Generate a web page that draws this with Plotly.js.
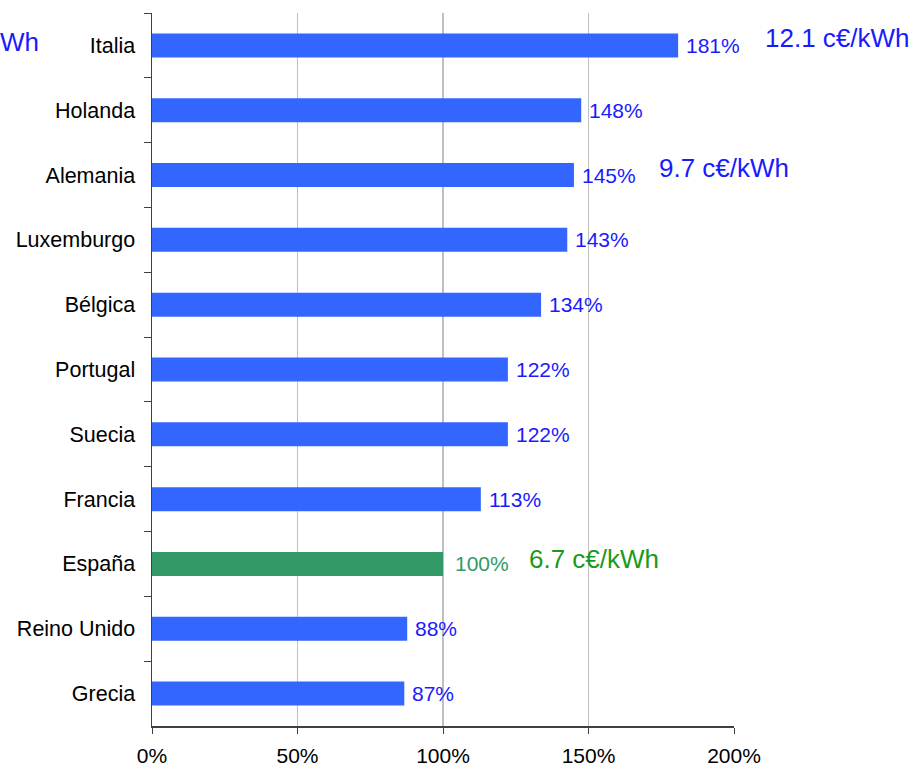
<!DOCTYPE html>
<html>
<head>
<meta charset="utf-8">
<script src="https://cdn.plot.ly/plotly-3.0.1.min.js"></script>
<style>html,body{margin:0;padding:0;background:#fff;}#chart{width:912px;height:768px;}</style>
</head>
<body>
<div id="chart"></div>
<script>
const countries = ["Italia","Holanda","Alemania","Luxemburgo","Bélgica","Portugal","Suecia","Francia","España","Reino Unido","Grecia"];
const valueLabels = ["181%","148%","145%","143%","134%","122%","122%","113%","100%","88%","87%"];
const barValues = [180.8,147.5,145,142.7,133.7,122.3,122.3,113,100,87.7,86.7];
const xTicks = [0,50,100,150,200];
const xTickLabels = ["0%","50%","100%","150%","200%"];
const priceNotes = ["Wh","12.1 c€/kWh","9.7 c€/kWh","6.7 c€/kWh"];
const priceNoteX = [-38,210,173.5,129];
const priceNoteY = ["Italia","Italia","Alemania","España"];

const highlight = "España";
const barColors = countries.map(c => c === highlight ? "#339966" : "#3366ff");
const textColors = countries.map(c => c === highlight ? "#339966" : "#1a1aff");
const font = "Liberation Sans, Arial, sans-serif";

const trace = {
  type: "bar",
  orientation: "h",
  y: countries,
  x: barValues,
  marker: {color: barColors},
  width: 0.37,
  hoverinfo: "none"
};

const labelShift = countries.map(c => c === highlight ? 10 : 6);
const valueAnnotations = valueLabels.map((t,i) => ({
  text: t, x: barValues[i], y: countries[i], xref: "x", yref: "y",
  xanchor: "left", yanchor: "middle", showarrow: false, xshift: labelShift[i], yshift: 0,
  font: {family: font, size: 21, color: textColors[i]}
}));

// the plot spans 0..200 % over the paper width; notes outside it are placed in paper units
const toPaperX = v => v / 200;
const catIndex = c => countries.indexOf(c);
const toPaperY = c => 1 - (catIndex(c) + 0.5) / countries.length;
const noteColors = ["#1a1aff","#1a1aff","#1a1aff","#1a9a1a"];
const noteShift = [3,7,7,5];
const noteAnnotations = priceNotes.map((t,i) => ({
  text: t, x: toPaperX(priceNoteX[i]), y: toPaperY(priceNoteY[i]), xref: "paper", yref: "paper",
  xanchor: i === 0 ? "right" : "left", yanchor: "middle", showarrow: false,
  yshift: noteShift[i],
  font: {family: font, size: 26, color: noteColors[i]}
}));

const layout = {
  width: 912, height: 768,
  margin: {l: 152, r: 178, t: 13, b: 42},
  paper_bgcolor: "#fff", plot_bgcolor: "#fff",
  showlegend: false,
  font: {family: font, size: 20, color: "#000"},
  xaxis: {
    range: [0,200], tickvals: xTicks, ticktext: xTickLabels,
    showgrid: true, gridcolor: "#c0c0c0", gridwidth: 1.5,
    zeroline: false, showline: true, linecolor: "#404040", linewidth: 1.5,
    ticks: "outside", ticklen: 6, tickcolor: "#404040", ticklabelstandoff: 4,
    tickfont: {family: font, size: 21, color: "#000"}
  },
  yaxis: {
    type: "category", categoryorder: "array", categoryarray: countries,
    autorange: "reversed", showgrid: false, zeroline: false,
    showline: true, linecolor: "#404040", linewidth: 1.5,
    ticks: "outside", ticklen: 7, tickcolor: "#404040", tickson: "boundaries",
    ticklabelstandoff: 11,
    tickfont: {family: font, size: 21.5, color: "#000"}
  },
  annotations: valueAnnotations.concat(noteAnnotations)
};

Plotly.newPlot("chart", [trace], layout, {displayModeBar: false, staticPlot: true});
</script>
</body>
</html>
